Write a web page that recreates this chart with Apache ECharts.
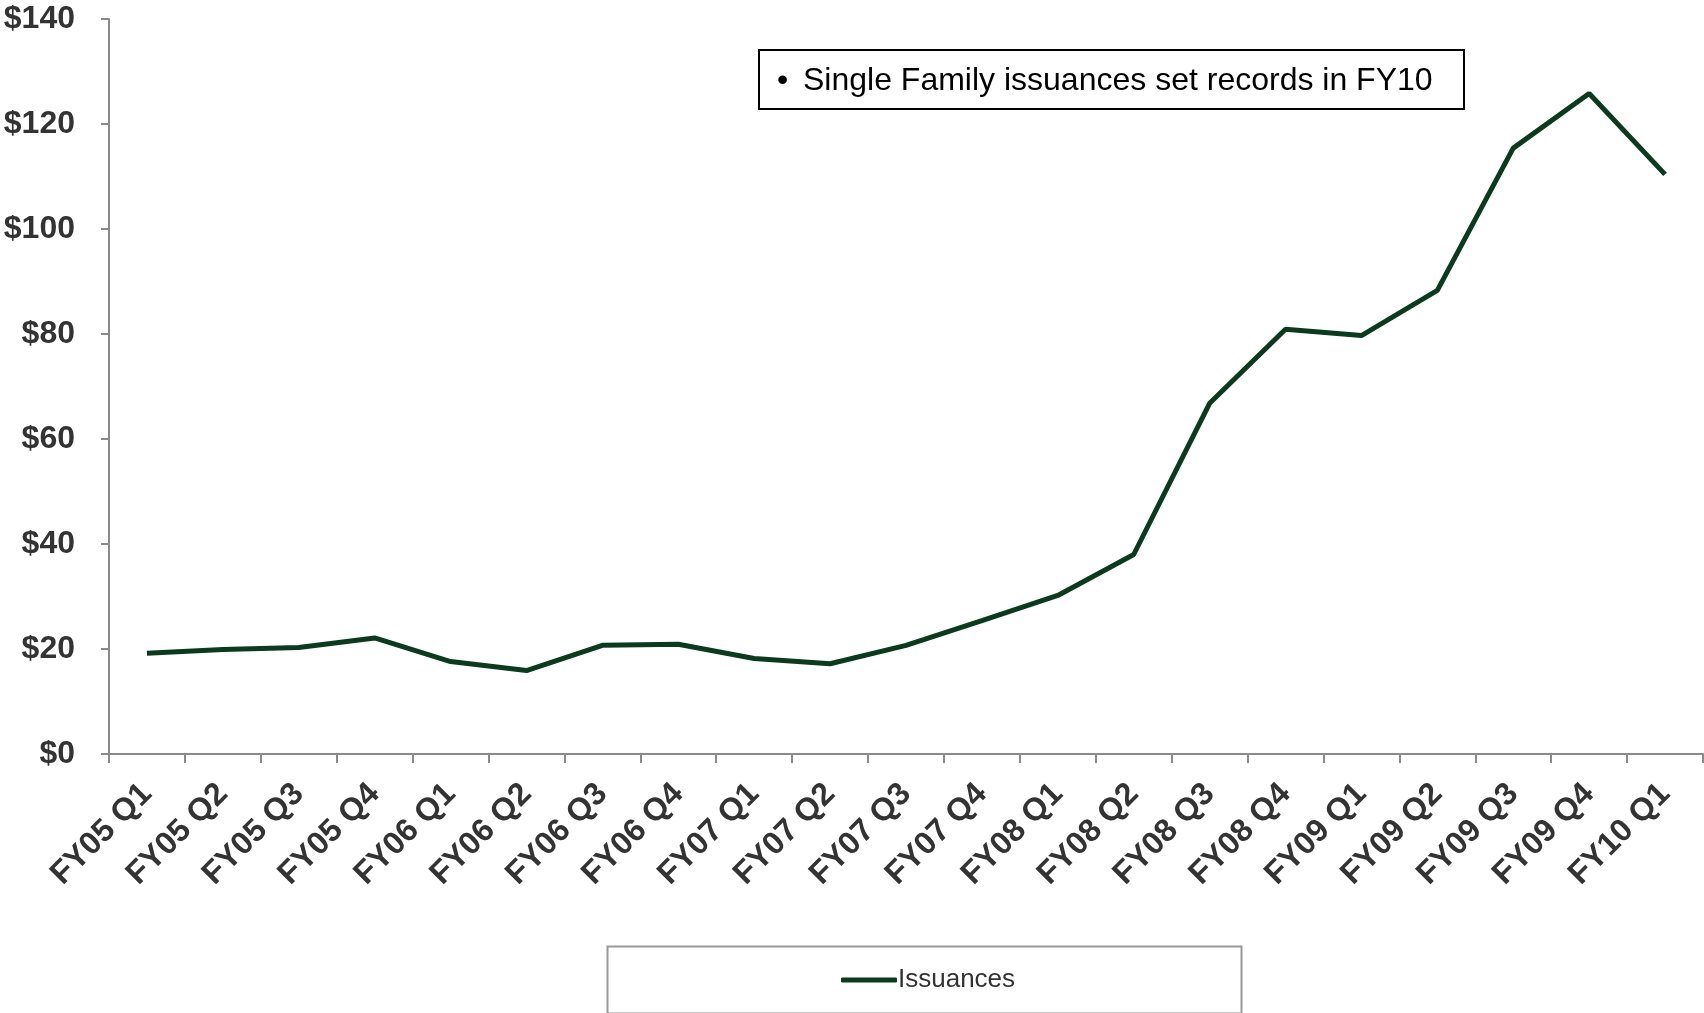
<!DOCTYPE html>
<html>
<head>
<meta charset="utf-8">
<script src="https://cdn.jsdelivr.net/npm/echarts@6/dist/echarts.min.js"></script>
<style>
html,body{margin:0;padding:0;background:#fff;}
#c{width:1704px;height:1013px;}
</style>
</head>
<body>
<div id="c"></div>
<script>
var categories = ['FY05 Q1','FY05 Q2','FY05 Q3','FY05 Q4','FY06 Q1','FY06 Q2','FY06 Q3','FY06 Q4','FY07 Q1','FY07 Q2','FY07 Q3','FY07 Q4','FY08 Q1','FY08 Q2','FY08 Q3','FY08 Q4','FY09 Q1','FY09 Q2','FY09 Q3','FY09 Q4','FY10 Q1'];
var issuances = [19.2, 19.9, 20.3, 22.1, 17.6, 15.9, 20.7, 20.9, 18.2, 17.2, 20.7, 25.4, 30.2, 38.0, 66.8, 80.9, 79.7, 88.3, 115.4, 125.8, 110.4];
var seriesName = 'Issuances';
var noteBullet = '\u2022';
var noteText = 'Single Family issuances set records in FY10';

var FONT = '"Liberation Sans", Arial, sans-serif';
var chart = echarts.init(document.getElementById('c'));
chart.setOption({
  animation: false,
  backgroundColor: '#fff',
  grid: { left: 109, right: 1, top: 19, bottom: 259, containLabel: false },
  xAxis: {
    type: 'category',
    data: categories,
    boundaryGap: true,
    axisLine: { lineStyle: { color: '#8a8a8a', width: 2 } },
    axisTick: { show: true, length: 9, lineStyle: { color: '#8a8a8a', width: 2 } },
    axisLabel: { rotate: 45, interval: 0, margin: 35, color: '#333', fontFamily: FONT, fontWeight: 'bold', fontSize: 32 }
  },
  yAxis: {
    type: 'value',
    min: 0, max: 140, interval: 20,
    splitLine: { show: false },
    axisLine: { show: true, lineStyle: { color: '#8a8a8a', width: 2 } },
    axisTick: { show: true, length: 8, lineStyle: { color: '#8a8a8a', width: 2 } },
    axisLabel: { margin: 34, color: '#333', fontFamily: FONT, fontWeight: 'bold', fontSize: 32, formatter: function(v){ return '$' + v; } }
  },
  legend: {
    left: 836, top: 962,
    icon: 'roundRect', itemWidth: 56, itemHeight: 5, itemGap: 10,
    textStyle: { color: '#333', fontFamily: FONT, fontSize: 26, padding: [0,0,0,-4] },
    data: [seriesName]
  },
  series: [{
    name: seriesName,
    type: 'line',
    data: issuances,
    symbol: 'none',
    lineStyle: { color: '#0b3a1e', width: 5 },
    itemStyle: { color: '#0b3a1e' }
  }],
  graphic: [
    { type: 'rect', left: 605, top: 944, shape: { width: 634, height: 67 }, style: { fill: 'none', stroke: '#999', lineWidth: 2 }, z: 1 },
    { type: 'rect', left: 758, top: 49, shape: { width: 705, height: 59 }, style: { fill: '#fff', stroke: '#000', lineWidth: 2 }, z: 10 },
    { type: 'text', left: 777, top: 65, style: { text: noteBullet, font: '32px ' + FONT, fill: '#000' }, z: 11 },
    { type: 'text', left: 803, top: 65, style: { text: noteText, font: '32px ' + FONT, fill: '#000' }, z: 11 }
  ]
});
</script>
</body>
</html>
